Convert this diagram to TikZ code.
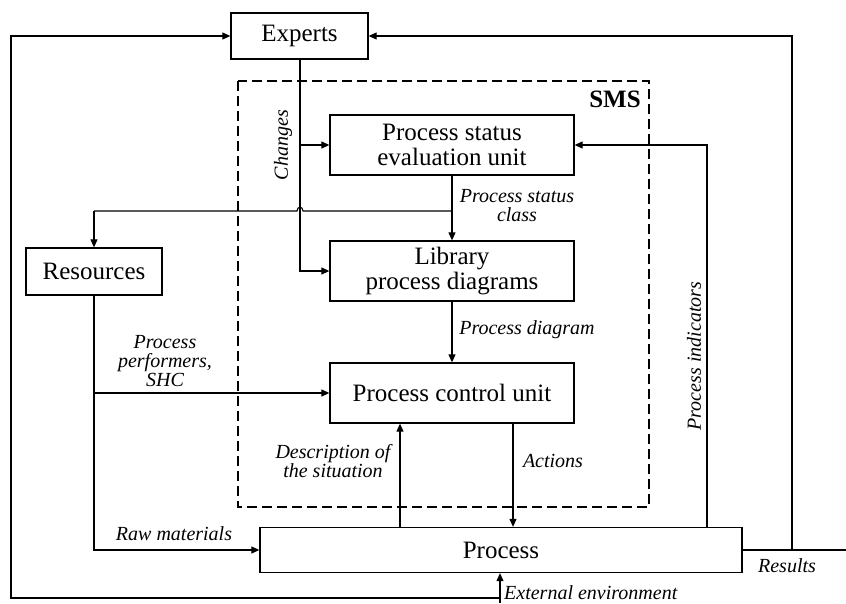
\documentclass[tikz,border=0pt]{standalone}
\usepackage{fontspec}
\setmainfont{Liberation Serif}
\usetikzlibrary{arrows.meta,calc}
\tikzset{
  box/.style={draw, line width=1.3pt, fill=white, inner sep=2pt, align=center,
    font=\fontsize{25}{25}\selectfont},
  lbl/.style={inner sep=0pt, align=center, font=\fontsize{20}{19}\selectfont\itshape},
  conn/.style={line width=1.1pt},
  arr/.style={conn, -{Triangle[length=8pt,width=7pt]}},
}
\begin{document}
\begin{tikzpicture}[x=1pt,y=-1pt]
\useasboundingbox (0,0) rectangle (846,603);

% SMS dashed frame
\draw[line width=1.2pt, dash pattern=on 10pt off 5pt] (238,81) rectangle (649,507);
\node[font=\fontsize{25}{25}\selectfont\bfseries, inner sep=0pt] (sms) at (615,99) {SMS};

% boxes
\node[box, minimum width=137pt, minimum height=46pt] (exp) at (299.5,36) {Experts};
\node[box, minimum width=244pt, minimum height=60pt] (pse) at (452,145) {Process status\\evaluation unit};
\node[box, minimum width=244pt, minimum height=60pt] (lib) at (452,271) {Library\\process diagrams};
\node[box, minimum width=244pt, minimum height=60pt] (pcu) at (452,393) {Process control unit};
\node[box, minimum width=136pt, minimum height=47pt] (res) at (94,271.5) {Resources};
\node[box, minimum width=482pt, minimum height=45pt] (proc) at (501,550) {Process};

% coordinates
\coordinate (cA) at (300,145);
\coordinate (cB) at (300,271);
\coordinate (cC) at (452,211);
\coordinate (hopR) at (303,211);
\coordinate (hopL) at (297,211);
\coordinate (cD) at (94,211);
\coordinate (cE) at (94,393);
\coordinate (cF) at (94,550);
\coordinate (cG) at (707,145);
\coordinate (cH) at (792,550);
\coordinate (cI) at (792,36);
\coordinate (cJ) at (846,550);
\coordinate (cK) at (500,598);
\coordinate (cL) at (500,603);
\coordinate (cM) at (11,598);
\coordinate (cN) at (11,36);

% Experts -> changes
\draw[arr] (exp.south -| cB) -- (cB) -- (lib.west);
\draw[arr] (cA) -- (pse.west);

% PSE -> library, branch to resources
\draw[arr] (pse.south) -- (lib.north);
\draw[conn] (cC) -- (hopR) .. controls (303,206) and (297,206) .. (hopL) -- (cD);
\draw[arr] (cD) -- (res.north);

% library -> pcu
\draw[arr] (lib.south) -- (pcu.north);

% resources -> process, pcu
\draw[arr] (res.south) -- (cF) -- (proc.west);
\draw[arr] (cE) -- (pcu.west);

% pcu <-> process
\draw[arr] (pcu.south -| 513,0) -- (proc.north -| 513,0);
\draw[arr] (proc.north -| 400,0) -- (pcu.south -| 400,0);

% process indicators
\draw[arr] (proc.north -| cG) -- (cG) -- (pse.east);

% results
\draw[conn] (proc.east) -- (cJ);
\draw[arr] (cH) -- (cI) -- (exp.east);

% external environment and left loop
\draw[arr] (cL) -- (proc.south -| cL);
\draw[arr] (cK) -- (cM) -- (cN) -- (exp.west);

% labels
\node[lbl, rotate=90] (lchg) at (283,145) {Changes};
\node[lbl] (lpsc) at (517,206) {Process status\\class};
\node[lbl] (lpd) at (527,330) {Process diagram};
\node[lbl] (lpp) at (165,361) {Process\\performers,\\SHC};
\node[lbl] (lraw) at (174,534) {Raw materials};
\node[lbl] (ldesc) at (333,461) {Description of\\the situation};
\node[lbl] (lact) at (553,461) {Actions};
\node[lbl, rotate=90] (lpi) at (694,356) {Process indicators};
\node[lbl] (lres) at (787,566) {Results};
\node[lbl, anchor=west] (lext) at (504,593) {External environment};
\end{tikzpicture}
\end{document}
